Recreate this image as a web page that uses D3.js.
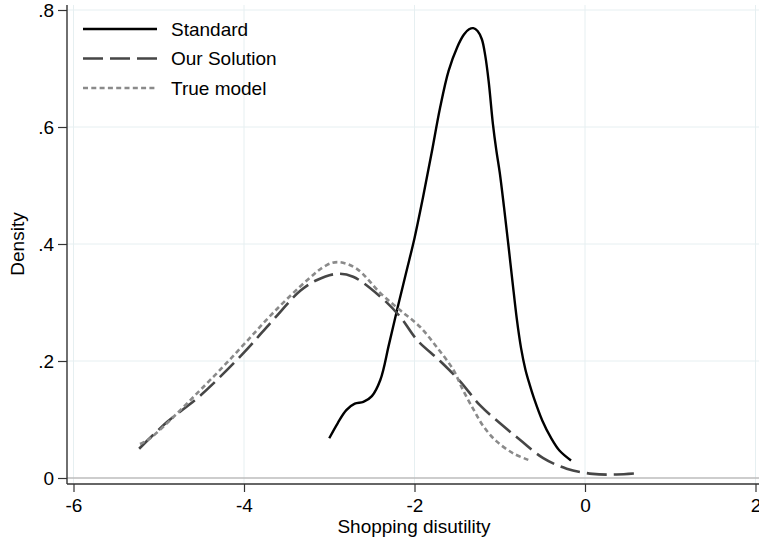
<!DOCTYPE html>
<html>
<head>
<meta charset="utf-8">
<script src="https://cdn.jsdelivr.net/npm/d3@7"></script>
<style>
  body { margin: 0; background: #fff; }
  text { font-family: "Liberation Sans", Arial, sans-serif; }
</style>
</head>
<body>
<svg width="759" height="544"></svg>
<script>
// density curves: [x, density]
var standard = [[-3.0,0.068],[-2.9,0.094],[-2.8,0.116],[-2.7,0.127],[-2.6,0.13],[-2.5,0.14],
  [-2.4,0.168],[-2.3,0.228],[-2.2,0.29],[-2.1,0.35],[-2.0,0.41],[-1.9,0.48],[-1.8,0.555],
  [-1.7,0.633],[-1.6,0.696],[-1.5,0.736],[-1.42,0.758],[-1.36,0.767],[-1.31,0.769],[-1.26,0.764],
  [-1.21,0.75],[-1.17,0.722],[-1.13,0.678],[-1.08,0.605],[-1.04,0.56],[-1.0,0.522],[-0.95,0.463],
  [-0.9,0.4],[-0.85,0.335],[-0.8,0.272],[-0.75,0.222],[-0.7,0.186],[-0.65,0.16],[-0.6,0.137],
  [-0.5,0.098],[-0.4,0.069],[-0.3,0.047],[-0.164,0.03]];
var ourSolution = [[-5.23,0.05],[-4.9,0.096],[-4.52,0.14],[-4.01,0.213],[-3.66,0.27],[-3.34,0.32],
  [-3.15,0.338],[-2.91,0.349],[-2.72,0.344],[-2.4,0.31],[-2.17,0.276],[-1.97,0.236],[-1.7,0.2],
  [-1.47,0.166],[-1.23,0.124],[-1.0,0.094],[-0.76,0.065],[-0.49,0.034],[-0.215,0.016],
  [0.09,0.007],[0.37,0.006],[0.61,0.008]];
var trueModel = [[-5.22,0.058],[-5.1,0.068],[-4.36,0.173],[-4.01,0.227],[-3.66,0.282],[-3.26,0.338],
  [-3.03,0.364],[-2.89,0.369],[-2.68,0.358],[-2.4,0.316],[-2.17,0.287],[-1.94,0.259],[-1.74,0.224],
  [-1.545,0.185],[-1.43,0.15],[-1.3,0.115],[-1.19,0.088],[-1.04,0.063],[-0.84,0.042],[-0.665,0.031]];

var seriesNames = ["Standard", "Our Solution", "True model"];
var xTicks = [-6, -4, -2, 0, 2];
var yTicks = [0, 0.2, 0.4, 0.6, 0.8];

var svg = d3.select("svg");
var x = d3.scaleLinear().domain([-6, 2]).range([73.5, 755.5]);
var y = d3.scaleLinear().domain([0, 0.8]).range([478, 10]);

// gridlines
svg.append("g").selectAll("line").data(xTicks).enter().append("line")
  .attr("x1", function(d){return x(d)}).attr("x2", function(d){return x(d)})
  .attr("y1", 5).attr("y2", 484)
  .style("stroke", "#e6eff1").style("stroke-width", 1);
svg.append("g").selectAll("line").data(yTicks.slice(1)).enter().append("line")
  .attr("x1", 67).attr("x2", 759)
  .attr("y1", function(d){return y(d)}).attr("y2", function(d){return y(d)})
  .style("stroke", "#e6eff1").style("stroke-width", 1);
// zero line
svg.append("line").attr("x1", 67).attr("x2", 759).attr("y1", y(0)).attr("y2", y(0))
  .style("stroke", "#bcbcbc").style("stroke-width", 1.5);

// axes
var yAxis = svg.append("g").attr("transform", "translate(67,0)")
  .call(d3.axisLeft(y).tickValues(yTicks).tickSize(9).tickSizeOuter(0)
    .tickFormat(function(d){ return d === 0 ? "0" : d3.format(".1f")(d).replace(/^0/, ""); }));
var xAxis = svg.append("g").attr("transform", "translate(0,484)")
  .call(d3.axisBottom(x).tickValues(xTicks).tickSize(8).tickSizeOuter(0)
    .tickFormat(function(d){ return d < 0 ? "-" + Math.abs(d) : String(d); }));
[xAxis, yAxis].forEach(function(a){
  a.select(".domain").remove();
  a.selectAll("line").style("stroke", "#333").style("stroke-width", 1.2);
  a.selectAll("text").style("font-size", "19px").style("fill", "#000")
    .style("font-family", "'Liberation Sans', Arial, sans-serif");
});
yAxis.selectAll("text").attr("x", -13).attr("dy", "0.36em");
xAxis.selectAll("text").attr("y", 28).attr("dy", 0);
svg.append("line").attr("x1", 67).attr("x2", 67).attr("y1", 5).attr("y2", 484)
  .style("stroke", "#333").style("stroke-width", 1.4);
svg.append("line").attr("x1", 67).attr("x2", 759).attr("y1", 484).attr("y2", 484)
  .style("stroke", "#333").style("stroke-width", 1.4);

svg.append("text").attr("transform", "translate(24,244) rotate(-90)")
  .style("text-anchor", "middle").style("font-size", "19px").text("Density");
svg.append("text").attr("x", 414).attr("y", 533)
  .style("text-anchor", "middle").style("font-size", "19px").text("Shopping disutility");

// curves
var styles = [
  {data: standard, color: "#000", width: 2.4, dash: null},
  {data: ourSolution, color: "#464646", width: 2.6, dash: "20,7"},
  {data: trueModel, color: "#8a8a8a", width: 2.6, dash: "5,3.3"}
];
var line = d3.line().x(function(d){return x(d[0])}).y(function(d){return y(d[1])})
  .curve(d3.curveCatmullRom.alpha(0.5));
styles.forEach(function(s){
  svg.append("path").attr("d", line(s.data))
    .style("fill", "none").style("stroke", s.color).style("stroke-width", s.width)
    .style("stroke-dasharray", s.dash);
});

// legend
var leg = svg.append("g").selectAll("g").data(seriesNames).enter().append("g")
  .attr("transform", function(d,i){return "translate(83," + (29 + i*29.5) + ")"});
leg.append("line").attr("x1", 0).attr("x2", 74).attr("y1", 0).attr("y2", 0)
  .style("stroke", function(d,i){return styles[i].color})
  .style("stroke-width", function(d,i){return styles[i].width})
  .style("stroke-dasharray", function(d,i){return styles[i].dash});
leg.append("text").attr("x", 88).attr("dy", "0.36em").style("font-size", "19px")
  .text(function(d){return d});
</script>
</body>
</html>
